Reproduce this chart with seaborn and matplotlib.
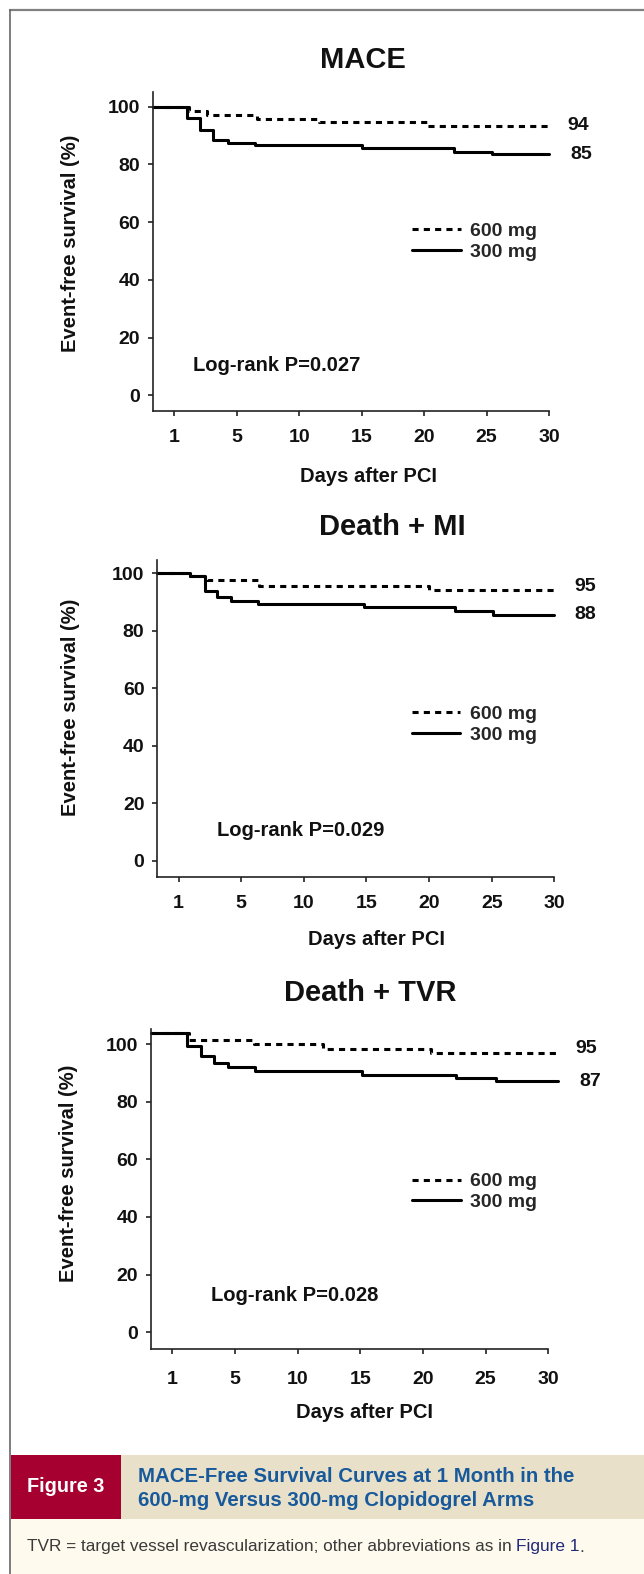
import pandas as pd
import numpy as np
import matplotlib
matplotlib.use("Agg")
import matplotlib.pyplot as plt
import seaborn as sns
from matplotlib.patches import Rectangle
from matplotlib.lines import Line2D

# data
# x axis: ticks are evenly spaced, the "1" tick sits at position 0
doses = ["600 mg", "300 mg"]
tick_pos = [0, 5, 10, 15, 20, 25, 30]
tick_labels = ["1", "5", "10", "15", "20", "25", "30"]
y_ticks = [0, 20, 40, 60, 80, 100]

titles = ["MACE", "Death + MI", "Death + TVR"]
pvalues = ["Log-rank P=0.027", "Log-rank P=0.029", "Log-rank P=0.028"]
end_labels = [["94", "85"], ["95", "88"], ["95", "87"]]

# MACE
mace_600_days = [-1.7, 1.2, 2.6, 6.6, 11.6, 20.2, 30]
mace_600_surv = [100, 98.5, 97.3, 95.7, 94.6, 93.4, 93.4]
mace_300_days = [-1.7, 1.0, 2.1, 3.1, 4.3, 6.5, 15.0, 22.4, 25.4, 30]
mace_300_surv = [100, 96.2, 92.0, 88.6, 87.6, 86.7, 85.7, 84.4, 83.5, 83.5]

# Death + MI
mi_600_days = [-1.7, 0.9, 2.3, 6.4, 20.0, 30]
mi_600_surv = [100, 99.0, 97.7, 95.4, 94.2, 94.2]
mi_300_days = [-1.7, 0.9, 2.1, 3.1, 4.2, 6.3, 14.8, 22.1, 25.1, 30]
mi_300_surv = [100, 99.0, 93.7, 91.8, 90.4, 89.2, 88.2, 86.7, 85.5, 85.5]

# Death + TVR
tvr_600_days = [-1.7, 1.3, 6.5, 12.0, 20.6, 30.8]
tvr_600_surv = [104.1, 101.4, 100.0, 98.5, 97.0, 97.0]
tvr_300_days = [-1.7, 1.15, 2.3, 3.3, 4.4, 6.6, 15.1, 22.6, 25.8, 30.8]
tvr_300_surv = [104.1, 99.3, 95.9, 93.5, 92.2, 90.7, 89.5, 88.4, 87.1, 87.1]


def km_frame(d600, s600, d300, s300):
    a = pd.DataFrame({"day": d600, "surv": s600, "dose": "600 mg"})
    b = pd.DataFrame({"day": d300, "surv": s300, "dose": "300 mg"})
    return pd.concat([a, b], ignore_index=True)


frames = [
    km_frame(mace_600_days, mace_600_surv, mace_300_days, mace_300_surv),
    km_frame(mi_600_days, mi_600_surv, mi_300_days, mi_300_surv),
    km_frame(tvr_600_days, tvr_600_surv, tvr_300_days, tvr_300_surv),
]

sns.set_style("ticks")
plt.rcParams["font.family"] = ["Liberation Sans", "DejaVu Sans"]

W, H = 644, 1574
fig = plt.figure(figsize=(W / 100, H / 100), dpi=100)
fig.patch.set_facecolor("white")


def fx(x):
    return x / W


def fy(y):
    return 1 - y / H


# layout in pixels: left, right, top, bottom of each axes box
boxes = [(153, 549, 92, 411), (157.3, 554.4, 560, 876.7), (151.1, 548.3, 1028.5, 1348.8)]
ylims = [(-5.4, 105.1), (-5.6, 104.6), (-5.8, 105.5)]
title_xy = [(363, 60), (392, 527), (370, 993)]
xlab_xy = [(368, 476), (376, 940), (364, 1413)]
ylab_xy = [(70, 243), (70, 707), (69, 1173)]
legend_xy = [(0.654, 0.531), (0.641, 0.48), (0.657, 0.49)]
pval_xy = [(1.5, 10.3), (3.1, 10.5), (3.1, 12.8)]
end_xy = [[(31.5, 93.4), (31.7, 83.5)], [(31.6, 95.4), (31.6, 85.5)], [(32.2, 98.7), (32.5, 87.0)]]
xpad = [9.5, 9.5, 12.5]

for i, df in enumerate(frames):
    l, r, t, b = boxes[i]
    ax = fig.add_axes([fx(l), fy(b), (r - l) / W, (b - t) / H])
    ax.set_facecolor("none")
    sns.lineplot(data=df, x="day", y="surv", hue="dose", style="dose",
                 hue_order=doses, style_order=doses,
                 palette={"600 mg": "black", "300 mg": "black"},
                 dashes={"600 mg": (2.0, 1.7), "300 mg": ""},
                 drawstyle="steps-post", estimator=None, sort=False,
                 linewidth=2.2, legend=False, clip_on=False, ax=ax)
    ax.set_xlim(-1.7, 30)
    ax.set_ylim(*ylims[i])
    ax.set_xticks(tick_pos)
    ax.set_xticklabels(tick_labels)
    ax.set_yticks(y_ticks)
    ax.set_xlabel("")
    ax.set_ylabel("")
    sns.despine(ax=ax)
    for s in ["left", "bottom"]:
        ax.spines[s].set_linewidth(1.2)
        ax.spines[s].set_color("#222222")
    ax.tick_params(axis="both", direction="out", length=3.8, width=1.2,
                   color="#222222", labelsize=14)
    ax.tick_params(axis="y", pad=5.5)
    ax.tick_params(axis="x", pad=xpad[i])
    for lab in ax.get_xticklabels() + ax.get_yticklabels():
        lab.set_fontweight("bold")
        lab.set_color("#111111")

    handles = [Line2D([], [], color="black", lw=2.2, dashes=(2.0, 1.7)),
               Line2D([], [], color="black", lw=2.2)]
    ax.legend(handles, doses, loc="center left", bbox_to_anchor=legend_xy[i],
              frameon=False, handlelength=2.5, handletextpad=0.5,
              labelspacing=0.15, borderpad=0, borderaxespad=0,
              prop={"weight": "bold", "size": 14})

    ax.text(pval_xy[i][0], pval_xy[i][1], pvalues[i], ha="left", va="center",
            fontsize=14.5, fontweight="bold", color="#111111")
    for lab, (ex, ey) in zip(end_labels[i], end_xy[i]):
        ax.text(ex, ey, lab, ha="left", va="center", fontsize=14,
                fontweight="bold", color="#111111", clip_on=False)

    fig.text(fx(title_xy[i][0]), fy(title_xy[i][1]), titles[i], ha="center",
             va="center", fontsize=21, fontweight="bold", color="#111111")
    fig.text(fx(xlab_xy[i][0]), fy(xlab_xy[i][1]), "Days after PCI", ha="center",
             va="center", fontsize=14.5, fontweight="bold", color="#111111")
    fig.text(fx(ylab_xy[i][0]), fy(ylab_xy[i][1]), "Event-free survival (%)",
             ha="center", va="center", rotation=90, fontsize=14.5,
             fontweight="bold", color="#111111")

# outer frame
fig.add_artist(Line2D([fx(10), fx(644)], [fy(9.5), fy(9.5)], color="#808080", lw=1.6))
fig.add_artist(Line2D([fx(10.3), fx(10.3)], [fy(9.5), fy(1574)], color="#5a5a5a", lw=1.1))

# caption band
fig.add_artist(Rectangle((fx(11), fy(1519)), (121 - 11) / W, (1519 - 1455) / H,
                         transform=fig.transFigure, color="#A50030", lw=0))
fig.add_artist(Rectangle((fx(121), fy(1519)), (644 - 121) / W, (1519 - 1455) / H,
                         transform=fig.transFigure, color="#E8E0C9", lw=0))
fig.add_artist(Rectangle((fx(11), fy(1574)), (644 - 11) / W, (1574 - 1519) / H,
                         transform=fig.transFigure, color="#FEFBEE", lw=0))

fig.text(fx(65.5), fy(1487), "Figure 3", ha="center", va="center", fontsize=14.3,
         fontweight="bold", color="white")
fig.text(fx(137.6), fy(1476), "MACE-Free Survival Curves at 1 Month in the",
         ha="left", va="center", fontsize=14.7, fontweight="bold", color="#17599B")
fig.text(fx(137.6), fy(1500), "600-mg Versus 300-mg Clopidogrel Arms",
         ha="left", va="center", fontsize=14.7, fontweight="bold", color="#17599B")

# footer with the blue cross reference
fs = 12.4
renderer = fig.canvas.get_renderer()
t1 = fig.text(fx(26.7), fy(1547), "TVR = target vessel revascularization; other abbreviations as in",
              ha="left", va="center", fontsize=fs, color="#3a3a3a")
x1 = t1.get_window_extent(renderer).x1 + fs * 1.389 * 0.278
t2 = fig.text(x1 / W, fy(1547), "Figure 1", ha="left", va="center",
              fontsize=fs, color="#22287A")
x2 = t2.get_window_extent(renderer).x1
fig.text(x2 / W, fy(1547), ".", ha="left", va="center", fontsize=fs, color="#3a3a3a")

fig.savefig("out.png", dpi=100)
